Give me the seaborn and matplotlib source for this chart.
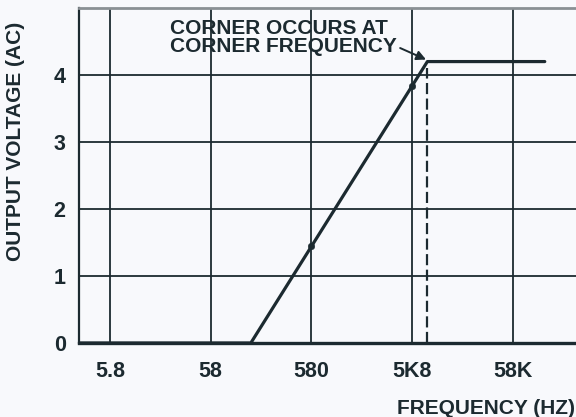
import matplotlib
matplotlib.use('Agg')
import matplotlib.pyplot as plt
import seaborn as sns
import pandas as pd

# Chart data
freq_hz = [2.85, 145, 8200, 120000]
volts_ac = [0, 0, 4.2, 4.2]
dot_freq = [580, 5800]
dot_volts = [1.45, 3.84]
corner_freq = 8200
corner_volts = 4.2
x_ticks = [5.8, 58, 580, 5800, 58000]
x_tick_labels = ['5.8', '58', '580', '5K8', '58K']
y_ticks = [0, 1, 2, 3, 4]
y_tick_labels = ['0', '1', '2', '3', '4']

ink = '#1c2a30'
paper = '#f8f9fc'

sns.set_style('white')
plt.rcParams['font.family'] = ['Liberation Sans', 'DejaVu Sans']
plt.rcParams['font.weight'] = 'bold'

df = pd.DataFrame({'freq': freq_hz, 'volts': volts_ac})
dots = pd.DataFrame({'freq': dot_freq, 'volts': dot_volts})

fig = plt.figure(figsize=(5.76, 4.17), dpi=100, facecolor=paper)
ax = fig.add_axes([0.137, 0.1775, 0.863, 0.8034])
ax.set_facecolor(paper)

ax.set_xscale('log')
ax.set_xlim(2.85, 245000)
ax.set_ylim(0, 5)

# grid
for x in x_ticks:
    ax.axvline(x, color=ink, lw=1.3, zorder=1)
for y in y_ticks[1:]:
    ax.axhline(y, color=ink, lw=1.3, zorder=1)

# corner marker line
ax.plot([corner_freq, corner_freq], [0, corner_volts - 0.1], color=ink, lw=1.6,
        linestyle=(0, (5, 2)), zorder=2)

sns.lineplot(data=df, x='freq', y='volts', color=ink, lw=2.3, sort=False, ax=ax, zorder=3)
sns.scatterplot(data=dots, x='freq', y='volts', color=ink, s=22, edgecolor=ink, ax=ax, zorder=4)

ax.set_xticks(x_ticks)
ax.set_xticklabels(x_tick_labels)
ax.set_yticks(y_ticks + [corner_volts])
ax.set_yticklabels(y_tick_labels + [''])
ax.minorticks_off()
ax.tick_params(axis='x', direction='out', length=3, width=1.3, color=ink, pad=10,
               labelsize=15.5, labelcolor=ink)
ax.tick_params(axis='y', direction='out', length=3, width=1.3, color=ink, pad=6.5,
               labelsize=15.5, labelcolor=ink)
ax.set_xlabel('')
ax.set_ylabel('')

ax.spines['left'].set_color(ink)
ax.spines['left'].set_linewidth(1.6)
ax.spines['bottom'].set_color(ink)
ax.spines['bottom'].set_linewidth(2.4)
ax.spines['top'].set_color('#8a9094')
ax.spines['top'].set_linewidth(2.0)
ax.spines['right'].set_visible(False)

ax.annotate('CORNER OCCURS AT\nCORNER FREQUENCY',
            xy=(corner_freq * 0.97, corner_volts + 0.03),
            xytext=(170, 417 - 19), xycoords='data', textcoords='figure pixels',
            fontsize=15, color=ink, ha='left', va='top', linespacing=0.9,
            arrowprops=dict(arrowstyle='-|>', color=ink, lw=1.4, mutation_scale=14,
                            shrinkA=0, shrinkB=0,
                            relpos=(0.98, 0.3)))

fig.text(16 / 576, 1 - 141 / 417, 'OUTPUT VOLTAGE (AC)', rotation=90, fontsize=15,
         color=ink, ha='center', va='center')
fig.text(575 / 576, 1 - 408 / 417, 'FREQUENCY (HZ)', fontsize=15, color=ink,
         ha='right', va='center')

fig.savefig('out.png', dpi=100, facecolor=paper)
